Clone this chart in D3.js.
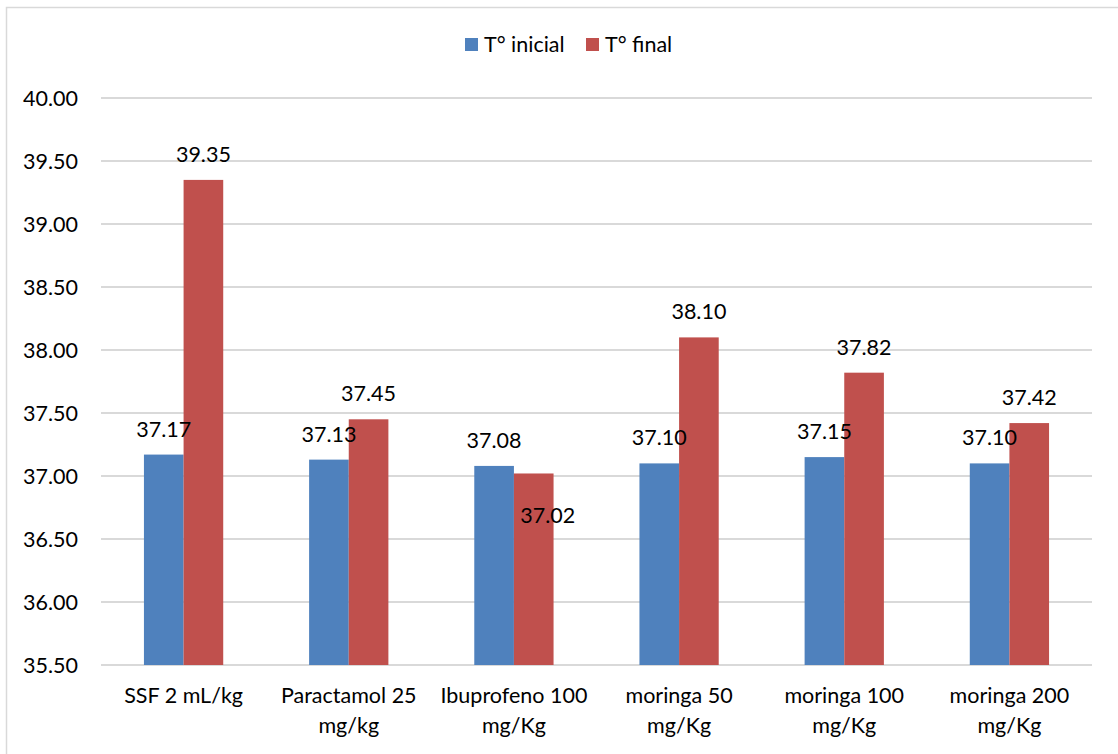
<!DOCTYPE html>
<html><head><meta charset="utf-8">
<script src="https://cdn.jsdelivr.net/npm/d3@7"></script>
<style>body{margin:0;background:#fff}svg{display:block}text{font-family:Lato,"Open Sans",sans-serif;fill:#000}</style>
</head><body><svg id="c" width="1118" height="754"></svg>
<script>
const categories = [["SSF 2 mL/kg"],["Paractamol 25","mg/kg"],["Ibuprofeno 100","mg/Kg"],["moringa 50","mg/Kg"],["moringa 100","mg/Kg"],["moringa 200","mg/Kg"]];
const seriesNames = ["T° inicial","T° final"];
const inicial = [37.17,37.13,37.08,37.10,37.15,37.10];
const final = [39.35,37.45,37.02,38.10,37.82,37.42];
const yTicks = [35.5,36,36.5,37,37.5,38,38.5,39,39.5,40];
const colors = ["#4F81BD","#C0504D"];

const svg = d3.select("#c");
const fs = 21.5;
svg.append("rect").attr("x",6.5).attr("y",7.5).attr("width",1130).attr("height",760)
  .attr("fill","none").attr("stroke","#D9D9D9").attr("stroke-width",1.5);

const L=101,R=1092,T=98,B=665;
const x = d3.scaleBand().domain(d3.range(categories.length)).range([L,R]).paddingInner(0.52).paddingOuter(0.26);
const xs = d3.scaleBand().domain([0,1]).range([0,x.bandwidth()]);
const y = d3.scaleLinear().domain([35.5,40]).range([B,T]);

const g = svg.append("g");
g.selectAll("line.grid").data(yTicks).join("line").attr("class","grid")
  .attr("x1",L).attr("x2",R).attr("y1",d=>y(d)).attr("y2",d=>y(d))
  .attr("stroke","#D9D9D9").attr("stroke-width",2);

const yAxis = d3.axisLeft(y).tickValues(yTicks).tickFormat(d3.format(".2f")).tickSize(0).tickPadding(0);
const ya = g.append("g").attr("transform","translate(78,0)").call(yAxis);
ya.select(".domain").remove();
ya.selectAll("text").attr("font-size",fs).attr("font-family","Lato").attr("fill","#000").attr("dy","0.35em");

const series = [inicial, final];
series.forEach((vals,si)=>{
  g.selectAll("rect.s"+si).data(vals).join("rect").attr("class","s"+si)
    .attr("x",(d,i)=>x(i)+xs(si)).attr("width",xs.bandwidth())
    .attr("y",d=>y(d)).attr("height",d=>B-y(d)).attr("fill",colors[si]);
});
series.forEach((vals,si)=>{
  g.selectAll("text.l"+si).data(vals).join("text").attr("class","l"+si)
    .attr("x",(d,i)=>{
      const cx = x(i)+xs(si)+xs.bandwidth()/2;
      return (si===1 && d<inicial[i]) ? cx+14 : cx;
    })
    .attr("y",(d,i)=> (si===1 && d<inicial[i]) ? y(d)+50 : y(d)-18)
    .attr("text-anchor","middle").attr("font-size",fs).text(d=>d.toFixed(2));
});

const xa = g.append("g");
categories.forEach((lines,i)=>{
  const t = xa.append("text").attr("text-anchor","middle").attr("font-size",fs)
    .attr("x",x(i)+x.bandwidth()/2).attr("y",703);
  lines.forEach((ln,j)=>t.append("tspan").attr("x",x(i)+x.bandwidth()/2).attr("y",703+30*j).text(ln));
});

const leg = svg.append("g");
const lx=[465,586];
seriesNames.forEach((n,i)=>{
  leg.append("rect").attr("x",lx[i]).attr("y",38).attr("width",13).attr("height",13).attr("fill",colors[i]);
  leg.append("text").attr("x",lx[i]+19).attr("y",52).attr("font-size",fs).text(n);
});
</script></body></html>
